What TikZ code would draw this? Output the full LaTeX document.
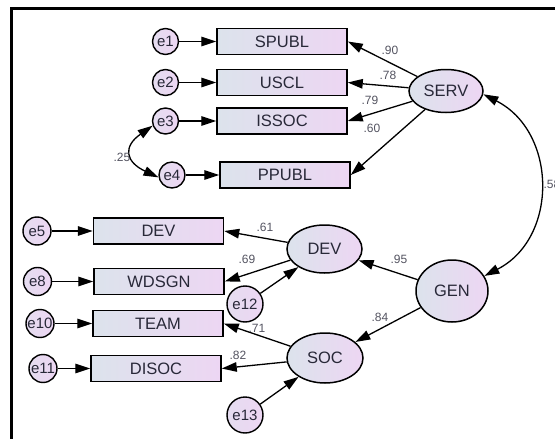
\documentclass[tikz,border=0pt]{standalone}
\usepackage{fontspec}
\setmainfont{Liberation Sans}
\usetikzlibrary{arrows.meta,shapes.geometric}

\begin{document}
\begin{tikzpicture}[x=1pt,y=1pt]
    % Define fill colors
    \definecolor{fillblue}{RGB}{220, 227, 236}
    \definecolor{fillpink}{RGB}{237, 214, 243}
    \definecolor{inkdark}{RGB}{40, 40, 56}

    \tikzset{
        obsbox/.style={draw, line width=1.5pt, minimum width=130pt, minimum height=26pt, inner sep=0pt,
            left color=fillblue, right color=fillpink, text=inkdark, font=\fontsize{16.5}{18}\selectfont},
        latent/.style={ellipse, draw, line width=1.5pt, inner sep=0pt,
            left color=fillblue, right color=fillpink, text=inkdark, font=\fontsize{16.5}{18}\selectfont},
        errnode/.style={circle, draw, line width=1.4pt, inner sep=0pt,
            left color=fillblue!50!fillpink, right color=fillpink, text=inkdark, font=\fontsize{15}{16}\selectfont},
        coef/.style={text=inkdark!80, font=\fontsize{12}{13}\selectfont, inner sep=0pt},
        arr/.style={-{Triangle[length=15pt,width=9.5pt]}, line width=1.3pt},
        dblarr/.style={{Triangle[length=15pt,width=9.5pt]}-{Triangle[length=15pt,width=9.5pt]}, line width=1.3pt},
    }

    \useasboundingbox (0,0) rectangle (555,-439);

    % Frame
    \draw[line width=2.5pt] (11.5,-439) -- (11.5,-8.5) -- (555,-8.5);

    % Observed variables
    \node[obsbox] (spubl) at (282,-41.5) {SPUBL};
    \node[obsbox] (uscl)  at (282,-82.5) {USCL};
    \node[obsbox] (issoc) at (282,-121) {ISSOC};
    \node[obsbox] (ppubl) at (285,-175) {PPUBL};
    \node[obsbox] (devb)  at (158.5,-231) {DEV};
    \node[obsbox] (wdsgn) at (159,-281.5) {WDSGN};
    \node[obsbox] (team)  at (158,-323.5) {TEAM};
    \node[obsbox] (disoc) at (156,-368.5) {DISOC};

    % Latent variables
    \node[latent, minimum width=74pt, minimum height=43pt] (serv) at (446,-91) {SERV};
    \node[latent, minimum width=75pt, minimum height=48pt] (dev)  at (324.5,-249) {DEV};
    \node[latent, minimum width=76pt, minimum height=50pt] (soc)  at (325,-358) {SOC};
    \node[latent, minimum width=72pt, minimum height=62pt] (gen)  at (452,-291) {GEN};

    % Error terms
    \node[errnode, minimum size=26pt] (e1) at (165.5,-41.5) {e1};
    \node[errnode, minimum size=26pt] (e2) at (165.5,-82.5) {e2};
    \node[errnode, minimum size=26pt] (e3) at (165.5,-121) {e3};
    \node[errnode, minimum size=26pt] (e4) at (172,-175) {e4};
    \node[errnode, minimum size=28pt] (e5) at (37,-231) {e5};
    \node[errnode, minimum size=28pt] (e8) at (37.5,-281.5) {e8};
    \node[errnode, minimum size=28pt] (e10) at (40,-323.5) {e10};
    \node[errnode, minimum size=28pt] (e11) at (43,-368.5) {e11};
    \node[errnode, minimum size=36pt] (e12) at (245,-304) {e12};
    \node[errnode, minimum size=36pt] (e13) at (245,-415) {e13};

    % Error arrows
    \foreach \e/\b in {e1/spubl, e2/uscl, e3/issoc, e4/ppubl, e5/devb, e8/wdsgn, e10/team, e11/disoc} {
        \draw[arr] (\e) -- (\b);
    }
    \draw[arr] (e12) -- (dev);
    \draw[arr] (e13) -- (soc);

    % Loadings
    \foreach \b in {spubl, uscl, issoc, ppubl} {
        \draw[arr] (serv) -- (\b.east);
    }
    \draw[arr] (dev) -- (devb.east);
    \draw[arr] (dev) -- (wdsgn.east);
    \draw[arr] (soc) -- (team.east);
    \draw[arr] (soc) -- (disoc.east);
    \draw[arr] (gen) -- (dev);
    \draw[arr] (gen) -- (soc);

    % Covariances
    \draw[dblarr] (e3.200) to[out=215, in=155, looseness=1.8] (e4.190);
    \draw[dblarr] (serv.-5) to[out=-27, in=27, looseness=1.17] (gen.25);

    % Coefficients
    \node[coef] (c90) at (390,-50) {.90};
    \node[coef] (c78) at (388,-75) {.78};
    \node[coef] (c79) at (370,-100) {.79};
    \node[coef] (c60) at (372,-128) {.60};
    \node[coef] (c25) at (122,-157) {.25};
    \node[coef] (c58) at (552,-184) {.58};
    \node[coef] (c61) at (265,-227) {.61};
    \node[coef] (c69) at (247,-259) {.69};
    \node[coef] (c71) at (257,-328) {.71};
    \node[coef] (c82) at (238,-355) {.82};
    \node[coef] (c95) at (399,-259) {.95};
    \node[coef] (c84) at (380,-317) {.84};

\end{tikzpicture}
\end{document}
